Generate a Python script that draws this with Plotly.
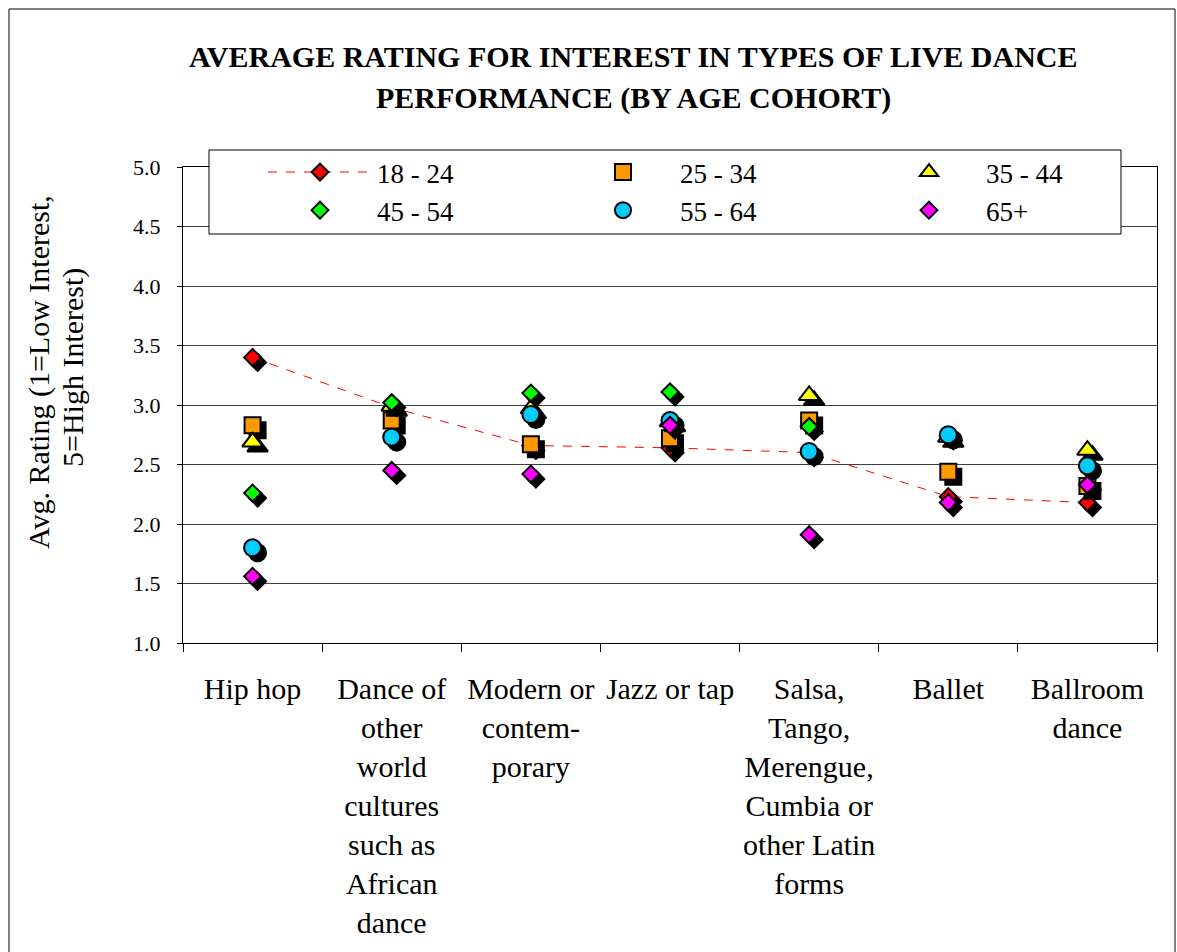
import plotly.graph_objects as go

# Dance types (x categories)
categories = [
    "Hip hop",
    "Dance of<br>other<br>world<br>cultures<br>such as<br>African<br>dance",
    "Modern or<br>contem-<br>porary",
    "Jazz or tap",
    "Salsa,<br>Tango,<br>Merengue,<br>Cumbia or<br>other Latin<br>forms",
    "Ballet",
    "Ballroom<br>dance",
]

# Average rating per age cohort
age_18_24 = [3.40, 2.98, 2.66, 2.64, 2.60, 2.23, 2.18]
age_25_34 = [2.83, 2.87, 2.67, 2.72, 2.87, 2.44, 2.32]
age_35_44 = [2.69, 2.99, 2.97, 2.86, 3.08, 2.73, 2.62]
age_45_54 = [2.26, 3.02, 3.10, 3.11, 2.82, 2.74, 2.48]
age_55_64 = [1.80, 2.73, 2.92, 2.87, 2.61, 2.75, 2.49]
age_65_up = [1.56, 2.45, 2.42, 2.83, 1.91, 2.18, 2.33]

y_ticks = [1.0, 1.5, 2.0, 2.5, 3.0, 3.5, 4.0, 4.5, 5.0]

# name, values, symbol, size, fill, legend column
series = [
    ("18 - 24", age_18_24, "diamond", 13, "#FF0000", "legend"),
    ("25 - 34", age_25_34, "square", 16, "#FF9900", "legend2"),
    ("35 - 44", age_35_44, "triangle-up", 18, "#FFFF00", "legend3"),
    ("45 - 54", age_45_54, "diamond", 13, "#00FF00", "legend"),
    ("55 - 64", age_55_64, "circle", 17, "#00CCFF", "legend2"),
    ("65+", age_65_up, "diamond", 13, "#FF00FF", "legend3"),
]

FONT = "Liberation Serif"
idx = list(range(len(categories)))
# drop-shadow offset (about 5 px right and 5 px down)
sx, sy = 0.036, 0.042

# plot-area pixel geometry, used to place paper-referenced items
L, T, W, H = 183, 167, 974, 476
def px(x):
    return (x - L) / W
def py(y):
    return (T + H - y) / H

fig = go.Figure()
for name, vals, sym, size, color, leg in series:
    fig.add_trace(go.Scatter(
        x=[i + sx for i in idx], y=[v - sy for v in vals],
        mode="markers", showlegend=False, hoverinfo="skip",
        marker=dict(symbol=sym, size=size, color="black",
                    line=dict(color="black", width=2)),
    ))
    fig.add_trace(go.Scatter(
        x=idx, y=vals, name=name, legend=leg,
        mode="lines+markers" if name == "18 - 24" else "markers",
        line=dict(color="#FF0000", width=1, dash="dash"),
        marker=dict(symbol=sym, size=size, color=color,
                    line=dict(color="black", width=2)),
    ))

# invisible trace on the boundary-tick axis
fig.add_trace(go.Scatter(x=[-0.5, 6.5], y=[1, 1], xaxis="x2", mode="markers",
                         marker=dict(opacity=0), showlegend=False, hoverinfo="skip"))

legend_style = dict(yanchor="top", xanchor="left", orientation="v", itemwidth=104,
                    bgcolor="rgba(0,0,0,0)", borderwidth=0,
                    font=dict(family=FONT, size=27))

fig.update_layout(
    width=1177, height=952,
    margin=dict(l=L, r=1177 - L - W, t=T, b=952 - T - H),
    paper_bgcolor="white", plot_bgcolor="white",
    font=dict(family=FONT, color="black"),
    xaxis=dict(range=[-0.5, 6.5], tickvals=idx, ticktext=categories,
               ticks="", showgrid=False, zeroline=False,
               showline=True, linecolor="black", linewidth=1, mirror=True,
               tickfont=dict(family=FONT, size=30), ticklabelstandoff=19),
    xaxis2=dict(range=[-0.5, 6.5], overlaying="x", anchor="y", side="bottom",
                tickvals=[i - 0.5 for i in range(len(categories) + 1)],
                ticks="outside", ticklen=8, tickcolor="black",
                showticklabels=False, showgrid=False, zeroline=False),
    yaxis=dict(range=[1, 5], tickvals=y_ticks, tickformat=".1f",
               ticks="outside", ticklen=5, tickcolor="black",
               showgrid=True, gridcolor="#404040", gridwidth=1, zeroline=False,
               showline=True, linecolor="black", linewidth=1, mirror=True,
               tickfont=dict(family=FONT, size=22), ticklabelstandoff=12),
    legend=dict(x=px(263), y=py(148), **legend_style),
    legend2=dict(x=px(566), y=py(148), **legend_style),
    legend3=dict(x=px(872), y=py(148), **legend_style),
    showlegend=True,
)

# legend frame
fig.add_shape(type="rect", xref="paper", yref="paper",
              x0=px(209), x1=px(1121), y0=py(234), y1=py(150),
              line=dict(color="black", width=1), fillcolor="white", layer="above")

# chart title (two lines)
fig.add_annotation(text="<b>AVERAGE RATING FOR INTEREST IN TYPES OF LIVE DANCE</b>",
                   xref="paper", yref="paper", x=px(633), y=py(57),
                   xanchor="center", yanchor="middle",
                   showarrow=False, font=dict(family=FONT, size=30))
fig.add_annotation(text="<b>PERFORMANCE (BY AGE COHORT)</b>",
                   xref="paper", yref="paper", x=px(633), y=py(98),
                   xanchor="center", yanchor="middle",
                   showarrow=False, font=dict(family=FONT, size=30))

# y-axis title (two lines)
fig.add_annotation(text="Avg. Rating (1=Low Interest,",
                   xref="paper", yref="paper", x=px(39), y=py(372),
                   xanchor="center", yanchor="middle",
                   textangle=-90, showarrow=False, font=dict(family=FONT, size=30))
fig.add_annotation(text="5=High Interest)",
                   xref="paper", yref="paper", x=px(73), y=py(368),
                   xanchor="center", yanchor="middle",
                   textangle=-90, showarrow=False, font=dict(family=FONT, size=30))

# chart-area frame
fig.add_shape(type="rect", xref="paper", yref="paper",
              x0=px(9), x1=px(1175), y0=py(990), y1=py(9),
              line=dict(color="black", width=1), fillcolor="rgba(0,0,0,0)", layer="below")

fig.write_html("out.html")
